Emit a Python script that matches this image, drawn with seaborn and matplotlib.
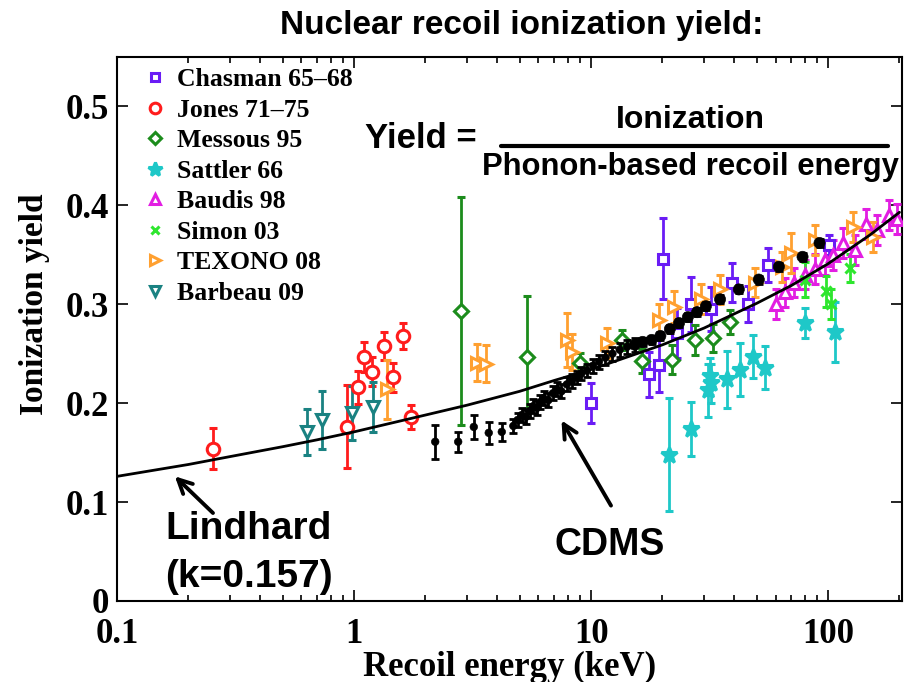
import numpy as np
import pandas as pd
import matplotlib.pyplot as plt
import seaborn as sns
from matplotlib.lines import Line2D

sns.set_style("ticks")
plt.rcParams['font.family'] = ['Liberation Serif', 'DejaVu Serif']
plt.rcParams['font.weight'] = 'bold'
plt.rcParams['axes.labelweight'] = 'bold'
plt.rcParams.update({'text.color': 'black', 'axes.labelcolor': 'black',
                     'xtick.color': 'black', 'ytick.color': 'black',
                     'axes.edgecolor': 'black'})

SANS = ['Liberation Sans', 'DejaVu Sans']

# Lindhard curve (k=0.157)
lind_E = [0.1, 0.2, 0.3, 0.5, 0.7, 1, 2, 3, 5, 7, 10, 20, 30, 50, 70, 100, 150, 200]
lind_Y = [0.126, 0.138, 0.146, 0.156, 0.163, 0.171, 0.188, 0.198, 0.212, 0.223,
          0.234, 0.259, 0.276, 0.301, 0.319, 0.341, 0.370, 0.393]

# CDMS
cdms_E = [2.2, 2.75, 3.2, 3.7, 4.2, 4.7, 4.9, 5.1, 5.3, 5.5, 5.7, 5.9, 6.1, 6.3, 6.6,
          6.9, 7.2, 7.5, 7.9, 8.3, 8.7, 9.1, 9.6, 10.2, 10.8, 11.5, 12.3, 13.2, 14.2,
          15.3, 16.5, 18.0, 19.6, 21.5, 23.5, 25.6, 28.0, 30.5, 35.0, 42.0, 51.0,
          62.0, 78.0, 92.0]
cdms_Y = [0.161, 0.161, 0.176, 0.170, 0.171, 0.177, 0.183, 0.188, 0.186, 0.192, 0.197,
          0.195, 0.201, 0.205, 0.203, 0.210, 0.214, 0.212, 0.219, 0.222, 0.226, 0.230,
          0.233, 0.238, 0.242, 0.246, 0.250, 0.254, 0.257, 0.259, 0.262, 0.264, 0.268,
          0.275, 0.281, 0.287, 0.292, 0.298, 0.305, 0.315, 0.325, 0.338, 0.348, 0.362]
cdms_err = [0.017, 0.010, 0.012, 0.011, 0.009] + [0.007] * 25 + [0.004] * 14

# Chasman 65-68
chas_E = [10.0, 17.5, 19.4, 20.1, 23.1, 26.5, 32.0, 39.4, 45.8, 56.0, 101.0]
chas_Y = [0.200, 0.229, 0.239, 0.346, 0.271, 0.300, 0.295, 0.322, 0.300, 0.340, 0.360]
chas_err = [0.020, 0.023, 0.028, 0.041, 0.025, 0.028, 0.022, 0.020, 0.018, 0.017, 0.010]

# Jones 71-75
jones_E = [0.254, 0.934, 1.04, 1.10, 1.19, 1.34, 1.46, 1.61, 1.74]
jones_Y = [0.154, 0.176, 0.216, 0.247, 0.232, 0.258, 0.226, 0.268, 0.186]
jones_err = [0.021, 0.042, 0.017, 0.015, 0.015, 0.014, 0.015, 0.013, 0.012]

# Messous 95
mess_E = [2.82, 5.37, 9.0, 13.5, 16.4, 21.9, 27.4, 32.8, 38.4]
mess_Y = [0.293, 0.247, 0.241, 0.264, 0.243, 0.244, 0.264, 0.266, 0.282]
mess_err = [0.115, 0.061, 0.010, 0.010, 0.012, 0.015, 0.015, 0.014, 0.012]

# Sattler 66
satt_E = [21.3, 26.4, 31.0, 31.6, 32.2, 37.3, 42.4, 48.0, 54.0, 80.0, 107.0]
satt_Y = [0.148, 0.174, 0.213, 0.227, 0.220, 0.224, 0.234, 0.247, 0.236, 0.281, 0.272]
satt_err = [0.057, 0.027, 0.027, 0.019, 0.020, 0.029, 0.027, 0.022, 0.022, 0.015, 0.030]

# Baudis 98
baud_E = [60, 66, 72, 80, 88, 97, 105, 115, 130, 145, 160, 180, 195]
baud_Y = [0.300, 0.312, 0.322, 0.330, 0.336, 0.345, 0.350, 0.362, 0.355, 0.381, 0.375,
          0.390, 0.386]
baud_err = [0.015] * 13

# Simon 03
simon_E = [80, 98, 103, 124]
simon_Y = [0.325, 0.313, 0.300, 0.337]
simon_err = [0.018, 0.016, 0.015, 0.014]

# TEXONO 08
tex_E = [1.38, 3.3, 3.6, 7.9, 8.3, 11.7, 19.3, 22.4, 29.2, 35, 49, 64, 69.5, 88, 127, 154]
tex_Y = [0.214, 0.241, 0.240, 0.264, 0.252, 0.261, 0.284, 0.297, 0.305, 0.315, 0.322,
         0.338, 0.352, 0.365, 0.378, 0.368]
tex_err = [0.030, 0.019, 0.019, 0.027, 0.018, 0.015, 0.016, 0.016, 0.015, 0.015, 0.015,
           0.015, 0.020, 0.015, 0.015, 0.015]

# Barbeau 09
barb_E = [0.634, 0.733, 0.98, 1.20]
barb_Y = [0.171, 0.183, 0.190, 0.196]
barb_err = [0.023, 0.029, 0.027, 0.025]

datasets = [
    ('Chasman 65\u201368', chas_E, chas_Y, chas_err, 's', '#6a1cf5', 7, False),
    ('Jones 71\u201375', jones_E, jones_Y, jones_err, 'o', '#ff1c1c', 9, False),
    ('Messous 95', mess_E, mess_Y, mess_err, 'D', '#1c8c1c', 7, False),
    ('Sattler 66', satt_E, satt_Y, satt_err, '*', '#1ec8c8', 12, True),
    ('Baudis 98', baud_E, baud_Y, baud_err, '^', '#e21ee2', 8.5, False),
    ('Simon 03', simon_E, simon_Y, simon_err, 'x', '#2ee62e', 7.5, True),
    ('TEXONO 08', tex_E, tex_Y, tex_err, '>', '#ffa030', 8.5, False),
    ('Barbeau 09', barb_E, barb_Y, barb_err, 'v', '#1a8282', 8.5, False),
]

fig = plt.figure(figsize=(9.05, 6.82), dpi=100)
ax = fig.add_axes([0.1293, 0.1188, 0.8674, 0.7976])

sns.lineplot(x=lind_E, y=lind_Y, color='black', lw=2.0, ax=ax, zorder=5)

handles = []
for name, E, Y, err, mk, col, ms, filled in datasets:
    ax.errorbar(E, Y, yerr=err, fmt=mk, color=col, ms=ms, mfc=col if filled else 'white',
                mec=col, mew=2.2, elinewidth=2.0, capsize=3.2, capthick=2.0, zorder=3)
    handles.append(Line2D([], [], ls='none', marker=mk, color=col, ms=ms * 0.85,
                          mfc=col if filled else 'white', mec=col, mew=2.2, label=name))

ax.errorbar(cdms_E, cdms_Y, yerr=cdms_err, fmt='none', ecolor='black',
            elinewidth=2.0, capsize=3, capthick=2.0, zorder=4)
cdms_size = [30 if e < 15 else 65 for e in cdms_E]
sns.scatterplot(x=cdms_E, y=cdms_Y, s=cdms_size, color='black', edgecolor='black',
                ax=ax, zorder=6, legend=False)

ax.set_xscale('log')
ax.set_xlim(0.1, 205)
ax.set_ylim(0, 0.55)
ax.set_xticks([0.1, 1, 10, 100])
ax.set_xticklabels(['0.1', '1', '10', '100'])
ax.set_yticks([0, 0.1, 0.2, 0.3, 0.4, 0.5])
ax.set_yticklabels(['0', '0.1', '0.2', '0.3', '0.4', '0.5'])
ax.tick_params(which='both', direction='in', top=True, right=True, labelsize=25,
               width=1.2)
ax.tick_params(axis='x', pad=12)
ax.tick_params(axis='y', pad=6)
ax.tick_params(which='major', length=8)
ax.tick_params(which='minor', length=4)
for sp in ax.spines.values():
    sp.set_linewidth(1.5)
ax.set_xlabel('Recoil energy (keV)', fontsize=25, fontweight='bold', labelpad=0)
ax.set_ylabel('Ionization yield', fontsize=24, fontweight='bold')
ax.yaxis.set_label_coords(-0.085, 0.545)

ax.legend(handles=handles, loc='upper left', bbox_to_anchor=(0.012, 1.012),
          frameon=False, handlelength=0.8, handletextpad=0.45,
          labelspacing=0.29, borderpad=0.2, prop={'weight': 'bold', 'size': 18.5})

fig.text(0.577, 0.963, 'Nuclear recoil ionization yield:', ha='center', va='center',
         family=SANS, fontsize=24, fontweight='bold')

# Yield formula
fig.text(421 / 905, 1 - 138 / 682, 'Yield =', ha='center', va='center', family=SANS,
         fontsize=25, fontweight='bold')
fig.text(690 / 905, 1 - 120 / 682, 'Ionization', ha='center', va='center', family=SANS,
         fontsize=23, fontweight='bold')
fig.text(690 / 905, 1 - 167 / 682, 'Phonon-based recoil energy', ha='center',
         va='center', family=SANS, fontsize=22.3, fontweight='bold')
fig.add_artist(Line2D([501 / 905, 888 / 905], [1 - 146 / 682, 1 - 146 / 682],
                      color='black', lw=3))

# Lindhard and CDMS labels with arrows
fig.text(165 / 905, 1 - 553 / 682, 'Lindhard\n(k=0.157)', ha='left', va='center',
         family=SANS, fontsize=28, fontweight='bold', linespacing=1.45)
ax.annotate('', xy=(0.172, 0.128), xytext=(0.259, 0.087),
            arrowprops=dict(arrowstyle='->', color='black', lw=2.8, mutation_scale=25))
fig.text(610 / 905, 1 - 545 / 682, 'CDMS', ha='center', va='center', family=SANS,
         fontsize=27, fontweight='bold')
ax.annotate('', xy=(7.4, 0.185), xytext=(12.3, 0.094),
            arrowprops=dict(arrowstyle='->', color='black', lw=2.8, mutation_scale=25))

fig.savefig('out.png', dpi=100)
